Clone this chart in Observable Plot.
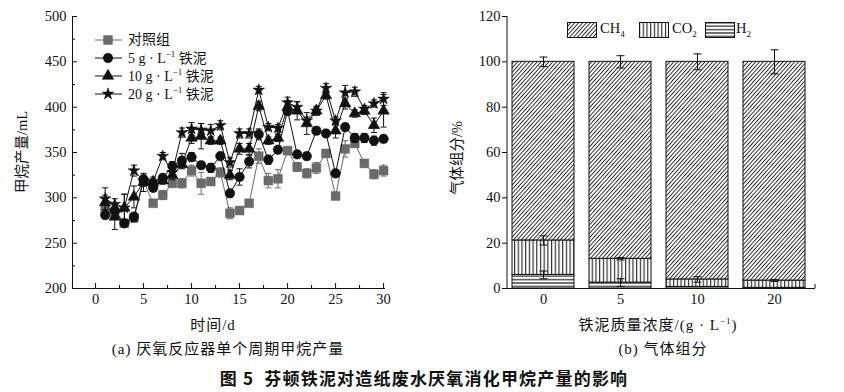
<!DOCTYPE html>
<html><head><meta charset="utf-8">
<script src="https://cdn.jsdelivr.net/npm/d3@7"></script>
<script src="https://cdn.jsdelivr.net/npm/@observablehq/plot@0.6"></script>
<style>
body{margin:0;background:#fff;}
#wrap{position:relative;width:844px;height:392px;overflow:hidden;font-family:"Liberation Serif","Noto Sans CJK SC",serif;color:#111;background:#fff;}
.abs{position:absolute;white-space:nowrap;line-height:1;}
.c{transform:translate(-50%,-50%);}
.cap{font-size:15px;letter-spacing:1px;}
</style></head><body>
<svg width="0" height="0" style="position:absolute">
<defs>
<pattern id="pCH4" patternUnits="userSpaceOnUse" width="2.9" height="6" patternTransform="rotate(42)">
<rect width="2.9" height="6" fill="#fff"/><line x1="0.5" y1="0" x2="0.5" y2="6" stroke="#222" stroke-width="0.95"/>
</pattern>
<pattern id="pCO2" patternUnits="userSpaceOnUse" width="3.7" height="6">
<rect width="3.7" height="6" fill="#fff"/><line x1="0.6" y1="0" x2="0.6" y2="6" stroke="#222" stroke-width="1.1"/>
</pattern>
<pattern id="pH2" patternUnits="userSpaceOnUse" width="6" height="3.4">
<rect width="6" height="3.4" fill="#fff"/><line x1="0" y1="0.8" x2="6" y2="0.8" stroke="#222" stroke-width="1.2"/>
</pattern>
</defs>
</svg>
<div id="wrap"></div>
<script>
// ---------- (a) methane production ----------
const days = [1,2,3,4,5,6,7,8,9,10,11,12,13,14,15,16,17,18,19,20,21,22,23,24,25,26,27,28,29,30];
const control    = [289,283,272,278,318,294,303,316,316,330,316,318,328,283,286,294,346,319,321,352,334,327,333,349,302,354,360,338,326,330];
const controlErr = [5,4,4,5,5,3,5,4,5,6,12,4,5,6,4,3,8,8,10,4,5,5,6,4,3,9,4,4,5,6];
const iron5      = [281,286,272,279,320,311,322,335,341,345,336,333,346,305,323,340,370,342,353,396,348,346,374,371,327,378,366,366,363,365];
const iron5Err   = [4,4,4,5,5,4,4,5,8,5,4,5,4,4,9,7,6,5,4,5,4,4,4,4,4,4,5,5,5,4];
const iron10     = [295,279,289,301,317,317,319,325,337,366,368,363,363,325,354,354,401,363,366,400,396,382,396,413,374,404,393,396,380,396];
const iron10Err  = [8,14,15,12,10,4,4,5,5,6,14,4,4,5,6,6,5,4,4,7,10,12,4,4,8,6,4,4,8,18];
const iron20     = [299,293,289,330,319,318,346,328,372,376,375,374,380,339,371,371,419,378,377,405,400,385,396,421,385,416,417,398,404,409];
const iron20Err  = [12,6,15,6,6,5,4,5,5,7,7,7,5,5,5,5,4,4,4,6,6,4,5,5,4,8,5,4,4,7];
const seriesNames = ["对照组", "5 g · L", "10 g · L", "20 g · L"];
const yTicksA = [200,250,300,350,400,450,500];
const xTicksA = [0,5,10,15,20,25,30];

// ---------- (b) gas composition ----------
const concLabels = ["0","5","10","20"];
const h2  = [6.0, 2.6, 0.7, 0.3];
const co2 = [15.2, 10.5, 3.3, 3.2];
const ch4 = [78.8, 86.9, 96.0, 96.5];
const h2Err  = [1.7, 1.7, 0, 0];
const co2Err = [2.0, 0.5, 1.2, 0.4];
const ch4Err = [2.1, 2.7, 3.5, 5.3];
const yTicksB = [0,20,40,60,80,100,120];

const FONT = '"Liberation Serif","Noto Sans CJK SC",serif';
const wrap = document.getElementById("wrap");
const capSym = (w) => ({draw(ctx){ ctx.moveTo(-w,0); ctx.lineTo(w,0); }});

const series = [
  {vals: control, err: controlErr, color: "#6a6a6a", symbol: "square", r: 5},
  {vals: iron5,   err: iron5Err,   color: "#111",    symbol: "circle", r: 4.8},
  {vals: iron10,  err: iron10Err,  color: "#111",    symbol: "triangle", r: 4.3},
  {vals: iron20,  err: iron20Err,  color: "#111",    symbol: "star", r: 3.7}
];

const marksA = [];
series.forEach((s) => {
  const rows = days.map((d, i) => ({day: d, v: s.vals[i], e: s.err[i]}));
  marksA.push(
    Plot.line(rows, {x: "day", y: "v", stroke: s.color, strokeWidth: 1}),
    Plot.ruleX(rows, {x: "day", y1: d => d.v - d.e, y2: d => d.v + d.e, stroke: s.color, strokeWidth: 1}),
    Plot.dot(rows, {x: "day", y: d => d.v - d.e, symbol: capSym(3), stroke: s.color, strokeWidth: 1}),
    Plot.dot(rows, {x: "day", y: d => d.v + d.e, symbol: capSym(3), stroke: s.color, strokeWidth: 1}),
    Plot.dot(rows, {x: "day", y: "v", symbol: s.symbol, r: s.r, fill: s.color, stroke: s.color, strokeWidth: 0.5})
  );
});

const chartA = Plot.plot({
  width: 420, height: 305,
  marginLeft: 72, marginRight: 35, marginTop: 16, marginBottom: 17,
  x: {domain: [-2.4, 30.2]},
  y: {domain: [200, 500]},
  style: {fontFamily: FONT, fontSize: "14.5px", color: "#111", background: "transparent", overflow: "visible"},
  marks: [
    ...marksA,
    Plot.axisY(yTicksA, {tickSize: -5, tickPadding: 11, label: null}),
    Plot.axisY(d3.range(225, 500, 50), {tickSize: -3, tickFormat: () => "", label: null}),
    Plot.axisX(xTicksA, {tickSize: -5, tickPadding: 10, label: null}),
    Plot.axisX(d3.range(2.5, 30, 5), {tickSize: -3, tickFormat: () => "", label: null}),
    Plot.ruleY([200], {stroke: "#111"}),
    Plot.ruleX([-2.4], {stroke: "#111"})
  ]
});
chartA.style.position = "absolute"; chartA.style.left = "0px"; chartA.style.top = "0px";
wrap.appendChild(chartA);

// ---------- chart B ----------
const gasRows = [];
concLabels.forEach((c, i) => {
  gasRows.push({conc: c, gas: "H2", v: h2[i]});
  gasRows.push({conc: c, gas: "CO2", v: co2[i]});
  gasRows.push({conc: c, gas: "CH4", v: ch4[i]});
});
const errRows = [];
concLabels.forEach((c, i) => {
  errRows.push({conc: c, y: h2[i], e: h2Err[i]});
  errRows.push({conc: c, y: h2[i] + co2[i], e: co2Err[i]});
  errRows.push({conc: c, y: h2[i] + co2[i] + ch4[i], e: ch4Err[i]});
});
const errShown = errRows.filter(d => d.e > 0);

const chartB = Plot.plot({
  width: 404, height: 305,
  marginLeft: 67, marginRight: 29, marginTop: 16, marginBottom: 17,
  x: {type: "band", domain: concLabels, paddingInner: 0.2, paddingOuter: 0.075, align: 0.35},
  y: {domain: [0, 120]},
  color: {type: "ordinal", domain: ["H2", "CO2", "CH4"], range: ["url(#pH2)", "url(#pCO2)", "url(#pCH4)"]},
  style: {fontFamily: FONT, fontSize: "14.5px", color: "#111", background: "transparent", overflow: "visible"},
  marks: [
    Plot.barY(gasRows, {x: "conc", y: "v", fill: "gas", stroke: "#111", strokeWidth: 1}),
    Plot.ruleX(errShown, {x: "conc", y1: d => d.y - d.e, y2: d => d.y + d.e, stroke: "#111", strokeWidth: 1}),
    Plot.dot(errShown, {x: "conc", y: d => d.y - d.e, symbol: capSym(4), stroke: "#111", strokeWidth: 1}),
    Plot.dot(errShown, {x: "conc", y: d => d.y + d.e, symbol: capSym(4), stroke: "#111", strokeWidth: 1}),
    Plot.axisY(yTicksB, {tickSize: 5, tickPadding: 2, label: null}),
    Plot.axisX({tickSize: 0, tickPadding: 5, label: null}),
    Plot.ruleY([0], {stroke: "#111"})
  ]
});
chartB.style.position = "absolute"; chartB.style.left = "440px"; chartB.style.top = "0px";
wrap.appendChild(chartB);
{
  const xr = chartB.scale("x").range, yr = chartB.scale("y").range;
  const g = d3.select(chartB).append("g").attr("stroke", "#111");
  g.append("line").attr("x1", xr[0]).attr("x2", xr[0]).attr("y1", yr[0]).attr("y2", yr[1]);
  g.append("line").attr("x1", xr[1]).attr("x2", xr[1]).attr("y1", yr[0]).attr("y2", yr[0] - 4);
}

// ---------- text ----------
function addText(html, x, y, cls, extra) {
  const d = document.createElement("div");
  d.className = "abs c " + (cls || "");
  d.style.left = x + "px"; d.style.top = y + "px";
  d.innerHTML = html;
  if (extra) Object.assign(d.style, extra);
  wrap.appendChild(d);
  return d;
}
addText("甲烷产量/mL", 22, 152, "", {fontSize: "14.5px", transform: "translate(-50%,-50%) rotate(-90deg)"});
addText("气体组分/%", 457, 158, "", {fontSize: "14.5px", transform: "translate(-50%,-50%) rotate(-90deg)"});
addText("时间/d", 213, 325, "cap");
addText("铁泥质量浓度/(g · L<sup style='font-size:9px'>−1</sup>)", 658, 325, "cap");
addText("(a) 厌氧反应器单个周期甲烷产量", 228, 349, "cap");
addText("(b) 气体组分", 663, 349, "cap");
addText("图 5&nbsp;&nbsp;芬顿铁泥对造纸废水厌氧消化甲烷产量的影响", 424, 377, "", {fontFamily: '"Noto Sans CJK SC",sans-serif', fontWeight: "bold", fontSize: "17px", letterSpacing: "1.2px"});

// legend (a)
const legendLabels = [
  "对照组",
  "5 g · L<sup style='font-size:9px'>−1</sup> 铁泥",
  "10 g · L<sup style='font-size:9px'>−1</sup> 铁泥",
  "20 g · L<sup style='font-size:9px'>−1</sup> 铁泥"
];
const symMap = {square: d3.symbolSquare, circle: d3.symbolCircle, triangle: d3.symbolTriangle, star: d3.symbolStar};
series.forEach((s, i) => {
  const cy = 40 + i * 18;
  const svg = d3.select(wrap).append("svg").attr("width", 30).attr("height", 16)
    .style("position", "absolute").style("left", "94px").style("top", (cy - 8) + "px");
  svg.append("line").attr("x1", 1).attr("x2", 28).attr("y1", 8).attr("y2", 8).attr("stroke", s.color);
  svg.append("path").attr("transform", "translate(14,8)")
    .attr("d", d3.symbol(symMap[s.symbol], s.r * s.r * Math.PI)())
    .attr("fill", s.color).attr("stroke", s.color).attr("stroke-width", 0.5);
  const t = document.createElement("div");
  t.className = "abs";
  t.style.left = "128px"; t.style.top = cy + "px"; t.style.transform = "translateY(-50%)";
  t.style.fontSize = "14px";
  t.innerHTML = legendLabels[i];
  wrap.appendChild(t);
});

// legend (b)
const gasLegend = [
  {id: "pCH4", label: "CH<sub style='font-size:9px'>4</sub>", x: 567, tx: 600},
  {id: "pCO2", label: "CO<sub style='font-size:9px'>2</sub>", x: 639, tx: 672},
  {id: "pH2",  label: "H<sub style='font-size:9px'>2</sub>",  x: 705, tx: 736}
];
gasLegend.forEach(g => {
  const svg = d3.select(wrap).append("svg").attr("width", 31).attr("height", 17)
    .style("position", "absolute").style("left", g.x + "px").style("top", "22px");
  svg.append("rect").attr("x", 0.5).attr("y", 0.5).attr("width", 29).attr("height", 15)
    .attr("fill", `url(#${g.id})`).attr("stroke", "#111");
  const t = document.createElement("div");
  t.className = "abs";
  t.style.left = g.tx + "px"; t.style.top = "30px"; t.style.transform = "translateY(-50%)";
  t.style.fontSize = "14.5px";
  t.innerHTML = g.label;
  wrap.appendChild(t);
});
</script>
</body></html>
